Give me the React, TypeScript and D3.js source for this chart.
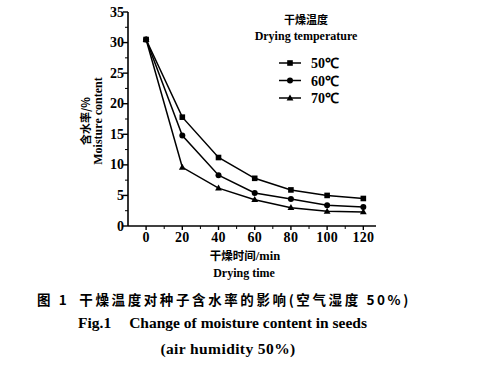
import React from 'react';
import * as d3 from 'd3';

// drying time (min)
const times = [0, 20, 40, 60, 80, 100, 120];
// moisture content (%) per drying temperature
const series50 = [30.5, 17.8, 11.2, 7.8, 5.9, 5.0, 4.5];
const series60 = [30.5, 14.8, 8.3, 5.4, 4.4, 3.4, 3.1];
const series70 = [30.5, 9.6, 6.2, 4.3, 3.0, 2.4, 2.3];
const seriesLabels = ['50℃', '60℃', '70℃'];
const yTicks = [0, 5, 10, 15, 20, 25, 30, 35];
const xTicks = [0, 20, 40, 60, 80, 100, 120];

const serif = "'Liberation Serif', 'Times New Roman', serif";
const cjk = "'Noto Sans CJK SC', sans-serif";

const Marker = ({ kind, x, y }: { kind: number; x: number; y: number }) => {
  if (kind === 0) return <rect x={x - 2.8} y={y - 2.8} width={5.6} height={5.6} fill="#000" />;
  if (kind === 1) return <circle cx={x} cy={y} r={3} fill="#000" />;
  return <path d={`M${x},${y - 3.6}L${x + 3.4},${y + 2.4}L${x - 3.4},${y + 2.4}Z`} fill="#000" />;
};

export default function App() {
  const x = d3.scaleLinear().domain([-10, 127]).range([128, 376]);
  const y = d3.scaleLinear().domain([0, 35]).range([226, 12]);
  const all = [series50, series60, series70];
  const line = d3
    .line<number>()
    .x((_, i) => x(times[i]))
    .y((d) => y(d));

  const minorX = d3.range(10, 121, 20);
  const minorY = d3.range(2.5, 35, 5);

  return (
    <svg width={494} height={371} style={{ position: 'absolute', left: 0, top: 0, background: '#fff' }}>
      {/* axes */}
      <line x1={x.range()[0]} x2={x.range()[1]} y1={y(0)} y2={y(0)} stroke="#000" strokeWidth={1.6} />
      <line x1={x.range()[0]} x2={x.range()[0]} y1={y(0)} y2={y(35)} stroke="#000" strokeWidth={1.6} />
      {yTicks.map((t) => (
        <g key={'y' + t}>
          <line x1={x.range()[0] - 5} x2={x.range()[0]} y1={y(t)} y2={y(t)} stroke="#000" strokeWidth={1.4} />
          <text x={x.range()[0] - 4} y={y(t) + 4.5} textAnchor="end" fontFamily={serif} fontWeight="bold" fontSize={14}>
            {t}
          </text>
        </g>
      ))}
      {minorY.map((t) => (
        <line key={'my' + t} x1={x.range()[0] - 3} x2={x.range()[0]} y1={y(t)} y2={y(t)} stroke="#000" strokeWidth={1} />
      ))}
      {xTicks.map((t) => (
        <g key={'x' + t}>
          <line x1={x(t)} x2={x(t)} y1={y(0)} y2={y(0) + 4} stroke="#000" strokeWidth={1.4} />
          <text x={x(t)} y={y(0) + 16} textAnchor="middle" fontFamily={serif} fontWeight="bold" fontSize={14} letterSpacing={0.3}>
            {t}
          </text>
        </g>
      ))}
      {minorX.map((t) => (
        <line key={'mx' + t} x1={x(t)} x2={x(t)} y1={y(0)} y2={y(0) + 3} stroke="#000" strokeWidth={1} />
      ))}

      {/* series */}
      {all.map((s, k) => (
        <g key={'s' + k}>
          <path d={line(s) || ''} fill="none" stroke="#000" strokeWidth={1.5} />
          {s.map((v, i) => (
            <Marker key={i} kind={k} x={x(times[i])} y={y(v)} />
          ))}
        </g>
      ))}

      {/* legend */}
      <text x={306} y={24} textAnchor="middle" fontFamily={cjk} fontWeight="bold" fontSize={11}>干燥温度</text>
      <text x={306} y={40} textAnchor="middle" fontFamily={serif} fontWeight="bold" fontSize={12}>Drying temperature</text>
      {seriesLabels.map((lab, k) => {
        const ly = 63 + k * 17.5;
        return (
          <g key={'l' + k}>
            <line x1={279} x2={301} y1={ly} y2={ly} stroke="#000" strokeWidth={1.5} />
            <Marker kind={k} x={290} y={ly} />
            <text x={311} y={ly + 5} fontFamily={serif} fontWeight="bold" fontSize={14}>{lab}</text>
          </g>
        );
      })}

      {/* axis titles */}
      <g transform="translate(90,121) rotate(-90)">
        <text textAnchor="middle" fontFamily={cjk} fontWeight="bold" fontSize={11}>含水率/%</text>
      </g>
      <g transform="translate(102,121) rotate(-90)">
        <text textAnchor="middle" fontFamily={serif} fontWeight="bold" fontSize={12}>Moisture content</text>
      </g>
      <text x={245} y={260} textAnchor="middle" fontFamily={cjk} fontWeight="bold" fontSize={11.5}>
        干燥时间<tspan fontFamily={serif} fontSize={12.5}>/min</tspan>
      </text>
      <text x={244} y={277} textAnchor="middle" fontFamily={serif} fontWeight="bold" fontSize={12}>Drying time</text>

      {/* caption */}
      <text x={37} y={305} fontFamily={cjk} fontWeight="bold" fontSize={13.5} letterSpacing={2.6}>
        图 1<tspan dx={10}>干燥温度对种子含水率的影响(空气湿度 50%)</tspan>
      </text>
      <text x={78} y={328} fontFamily={serif} fontWeight="bold" fontSize={15.5}>
        Fig.1<tspan dx={18}>Change of moisture content in seeds</tspan>
      </text>
      <text x={228} y={354} textAnchor="middle" fontFamily={serif} fontWeight="bold" fontSize={15.5} letterSpacing={0.4}>(air humidity 50%)</text>
    </svg>
  );
}
